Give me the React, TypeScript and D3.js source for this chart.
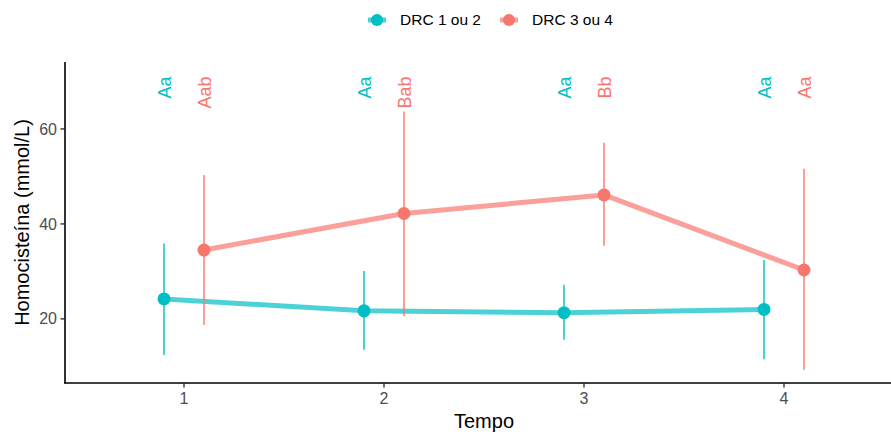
import React from "react";
import * as d3 from "d3";

const times = [1, 2, 3, 4];
const groups = ["DRC 1 ou 2", "DRC 3 ou 4"];
const colors = ["#00BFC4", "#F8766D"];
const meanG1 = [24.2, 21.7, 21.3, 22.0];
const lowG1 = [12.4, 13.5, 15.6, 11.5];
const highG1 = [35.9, 30.1, 27.2, 32.4];
const meanG2 = [34.5, 42.2, 46.1, 30.3];
const lowG2 = [18.7, 20.6, 35.4, 9.3];
const highG2 = [50.3, 63.7, 57.1, 51.6];
const lettersG1 = ["Aa", "Aa", "Aa", "Aa"];
const lettersG2 = ["Aab", "Bab", "Bb", "Aa"];
const labelY = 71.05;
const yTicks = [20, 40, 60];
const dodge = [-0.1, 0.1];

const W = 891;
const H = 434;
const FONT = "'Liberation Sans', Arial, sans-serif";

export default function App() {
  const x = d3.scaleLinear().domain([0.405, 4.535]).range([65, 891]);
  const y = d3.scaleLinear().domain([6.5, 74.1]).range([383, 62]);
  const series = [
    { mean: meanG1, low: lowG1, high: highG1, letters: lettersG1 },
    { mean: meanG2, low: lowG2, high: highG2, letters: lettersG2 },
  ];
  const line = d3
    .line<[number, number]>()
    .x((d) => d[0])
    .y((d) => d[1]);

  return (
    <svg
      width={W}
      height={H}
      style={{ position: "absolute", left: 0, top: 0, background: "#fff" }}
      fontFamily={FONT}
    >
      <rect x={0} y={0} width={W} height={H} fill="#fff" />
      {/* Legend */}
      {groups.map((g, i) => {
        const kx = i === 0 ? 377 : 509;
        return (
          <g key={g}>
            <line x1={kx - 9} x2={kx + 9} y1={20} y2={20} stroke={colors[i]} strokeOpacity={0.7} strokeWidth={5} />
            <circle cx={kx} cy={20} r={6} fill={colors[i]} />
            <text x={kx + 23} y={20} dy="0.35em" fontSize={15.5} fill="#000">
              {g}
            </text>
          </g>
        );
      })}
      {/* Series */}
      {series.map((s, gi) => {
        const pts: [number, number][] = times.map((t, k) => [x(t + dodge[gi]), y(s.mean[k])]);
        return (
          <g key={gi}>
            <path d={line(pts) || ""} fill="none" stroke={colors[gi]} strokeOpacity={0.7} strokeWidth={5} strokeLinejoin="round" />
            {times.map((t, k) => (
              <line
                key={"e" + k}
                x1={x(t + dodge[gi])}
                x2={x(t + dodge[gi])}
                y1={y(s.low[k])}
                y2={y(s.high[k])}
                stroke={colors[gi]}
                strokeOpacity={0.7}
                strokeWidth={2}
              />
            ))}
            {times.map((t, k) => (
              <circle key={"p" + k} cx={x(t + dodge[gi])} cy={y(s.mean[k])} r={6.5} fill={colors[gi]} />
            ))}
            {times.map((t, k) => (
              <text
                key={"l" + k}
                transform={`translate(${x(t + dodge[gi]) + 0.5},${y(labelY)}) rotate(-90)`}
                textAnchor="end"
                dy="0.35em"
                fontSize={18}
                fill={colors[gi]}
              >
                {s.letters[k]}
              </text>
            ))}
          </g>
        );
      })}
      {/* Axes */}
      <line x1={65} x2={65} y1={62} y2={383.5} stroke="#000" strokeWidth={1.6} />
      <line x1={64.2} x2={891} y1={383} y2={383} stroke="#000" strokeWidth={1.6} />
      {yTicks.map((t) => (
        <g key={t}>
          <line x1={60.5} x2={65} y1={y(t)} y2={y(t)} stroke="#222" strokeWidth={1.3} />
          <text x={57} y={y(t)} dy="0.35em" textAnchor="end" fontSize={16} fill="#4d4d4d">
            {t}
          </text>
        </g>
      ))}
      {times.map((t) => (
        <g key={t}>
          <line x1={x(t)} x2={x(t)} y1={383} y2={387.5} stroke="#222" strokeWidth={1.3} />
          <text x={x(t)} y={398} dy="0.35em" textAnchor="middle" fontSize={16} fill="#4d4d4d">
            {t}
          </text>
        </g>
      ))}
      <text x={x(2.5)} y={421} dy="0.35em" textAnchor="middle" fontSize={20} fill="#000">
        Tempo
      </text>
      <text transform={`translate(22,${(62 + 383) / 2}) rotate(-90)`} dy="0.35em" textAnchor="middle" fontSize={20} fill="#000">
        Homocisteína (mmol/L)
      </text>
    </svg>
  );
}
